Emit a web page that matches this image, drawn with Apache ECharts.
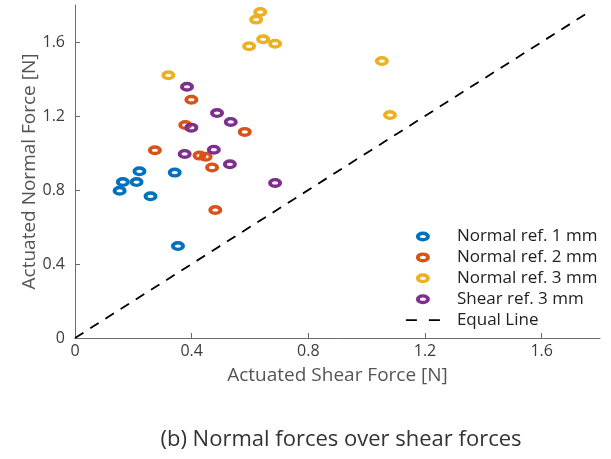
<!DOCTYPE html>
<html>
<head>
<meta charset="utf-8">
<script src="https://cdn.jsdelivr.net/npm/echarts@6/dist/echarts.min.js"></script>
<style>
html,body{margin:0;padding:0;background:#fff;}
#c{width:611px;height:459px;}
</style>
</head>
<body>
<div id="c"></div>
<script>
var tickValues = [0, 0.4, 0.8, 1.2, 1.6];
var seriesNames = ['Normal ref. 1 mm', 'Normal ref. 2 mm', 'Normal ref. 3 mm', 'Shear ref. 3 mm', 'Equal Line'];
var normal1 = [[0.221,0.901],[0.342,0.894],[0.164,0.843],[0.211,0.843],[0.153,0.796],[0.259,0.766],[0.353,0.497]];
var normal2 = [[0.399,1.288],[0.378,1.151],[0.582,1.114],[0.274,1.015],[0.427,0.986],[0.448,0.980],[0.470,0.922],[0.481,0.692]];
var normal3 = [[0.635,1.762],[0.621,1.721],[0.645,1.615],[0.686,1.591],[0.597,1.577],[0.320,1.420],[1.052,1.497],[1.080,1.205]];
var shear3 = [[0.384,1.358],[0.487,1.216],[0.534,1.168],[0.399,1.137],[0.376,0.995],[0.476,1.018],[0.531,0.939],[0.686,0.838]];
var equalLine = [[0,0],[1.77,1.77]];
var colors = ['#0072BD', '#D95319', '#EDB120', '#7E2F8E'];

var font = 'Open Sans';
var ring = 'path://M0,5 A7,5 0 1,1 14,5 A7,5 0 1,1 0,5 Z M4,5 A3,1.6 0 1,0 10,5 A3,1.6 0 1,0 4,5 Z';
function scatter(name, data, color) {
  return {
    name: name, type: 'scatter', data: data,
    symbol: ring, symbolSize: [14, 10],
    itemStyle: { color: color, opacity: 1 },
    z: 3
  };
}
var chart = echarts.init(document.getElementById('c'));
chart.setOption({
  animation: false,
  color: colors,
  grid: { left: 75, right: 11, top: 5, bottom: 121 },
  xAxis: {
    type: 'value', min: 0, max: 1.8, interval: 0.4,
    splitLine: { show: false },
    axisLine: { lineStyle: { color: '#6b6b6b', width: 1 } },
    axisTick: { inside: true, length: 5, customValues: tickValues, lineStyle: { color: '#6b6b6b' } },
    axisLabel: { customValues: tickValues, color: '#3c3c3c', fontSize: 16, fontFamily: font, margin: 5 },
    name: 'Actuated Shear Force [N]', nameLocation: 'middle', nameGap: 28, nameMoveOverlap: false,
    nameTextStyle: { color: '#555', fontSize: 19, fontFamily: font }
  },
  yAxis: {
    type: 'value', min: 0, max: 1.8, interval: 0.4,
    splitLine: { show: false },
    axisLine: { lineStyle: { color: '#6b6b6b', width: 1 } },
    axisTick: { inside: true, length: 5, customValues: tickValues, lineStyle: { color: '#6b6b6b' } },
    axisLabel: { customValues: tickValues, color: '#3c3c3c', fontSize: 16, fontFamily: font, margin: 10 },
    name: 'Actuated Normal Force [N]', nameLocation: 'middle', nameGap: 36, nameMoveOverlap: false,
    nameTextStyle: { color: '#555', fontSize: 19, fontFamily: font }
  },
  legend: {
    orient: 'vertical', left: 400, top: 223,
    itemWidth: 34, itemHeight: 10, itemGap: 3.9,
    textStyle: { color: '#222', fontSize: 17, fontFamily: font, lineHeight: 14, padding: [0,0,0,12] },
    data: [
      { name: seriesNames[0] },
      { name: seriesNames[1] },
      { name: seriesNames[2] },
      { name: seriesNames[3] },
      { name: seriesNames[4], itemStyle: { opacity: 0 }, lineStyle: { type: [11, 12], width: 1.8, color: '#000' } }
    ]
  },
  title: {
    text: '(b) Normal forces over shear forces', left: 336, top: 424, textAlign: 'center',
    textStyle: { color: '#333', fontSize: 22, fontWeight: 'normal', fontFamily: font }
  },
  series: [
    scatter(seriesNames[0], normal1, colors[0]),
    scatter(seriesNames[1], normal2, colors[1]),
    scatter(seriesNames[2], normal3, colors[2]),
    scatter(seriesNames[3], shear3, colors[3]),
    {
      name: seriesNames[4], type: 'line', data: equalLine, symbol: 'none',
      lineStyle: { color: '#000', width: 1.8, type: [10, 8] },
      itemStyle: { color: '#000' }, z: 2
    }
  ]
});
</script>
</body>
</html>
